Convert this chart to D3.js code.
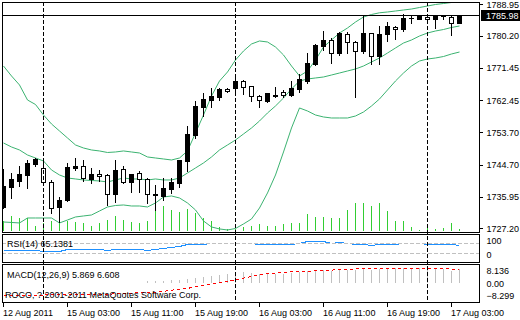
<!DOCTYPE html>
<html>
<head>
<meta charset="utf-8">
<script src="https://cdn.jsdelivr.net/npm/d3@7"></script>
<style>
    body { margin: 0; background: #fff; }
    svg { display: block; font-family: "Liberation Sans", Arial, sans-serif; font-size: 9px; }
</style>
</head>
<body>
<svg id="chart" width="520" height="320"></svg>
<script>
// hourly XAUUSD bars, 12 Aug 2011 19:00 .. 17 Aug 2011 04:00
const open = [1733.08,1738.59,1740.25,1741.90,1745.01,1743.83,1739.97,1733.08,1734.87,1743.83,
    1744.38,1740.88,1742.18,1741.90,1736.58,1743.47,1740.05,1742.53,1740.80,1736.25,
    1736.19,1738.04,1739.78,1745.84,1752.99,1760.73,1762.57,1763.48,1765.69,1765.80,
    1767.81,1766.29,1763.67,1762.38,1763.76,1764.86,1763.95,1765.60,1767.89,1772.49,
    1777.46,1779.02,1775.53,1780.85,1778.48,1776.16,1780.96,1774.70,1780.68,1782.78,
    1782.06,1785.04,1784.82,1785.53,1784.82,1785.67,1785.37,1783.88];
const high = [1743.83,1742.73,1744.66,1746.31,1746.86,1746.86,1740.80,1736.11,1745.48,1746.86,
    1746.31,1744.11,1743.42,1742.31,1746.23,1744.66,1742.18,1743.28,1741.43,1739.42,
    1741.43,1741.43,1746.31,1755.68,1762.57,1764.69,1766.07,1766.07,1766.02,1769.46,
    1768.36,1766.84,1764.22,1764.58,1766.43,1765.60,1768.09,1769.88,1775.80,1778.37,
    1781.87,1779.88,1781.67,1781.67,1779.11,1786.28,1781.40,1783.24,1784.43,1783.24,
    1786.47,1786.00,1786.00,1786.00,1785.73,1786.28,1786.28,1786.28];
const low = [1732.80,1735.56,1738.87,1738.32,1744.38,1739.14,1731.43,1728.95,1734.73,1743.28,
    1740.25,1739.69,1740.11,1733.63,1734.32,1739.78,1737.30,1737.30,1734.10,1732.25,
    1735.01,1736.86,1738.67,1743.09,1752.18,1758.16,1760.73,1762.57,1764.78,1764.14,
    1764.14,1762.30,1760.73,1762.10,1763.32,1763.32,1763.67,1764.86,1767.26,1772.22,
    1776.35,1772.85,1774.98,1775.61,1763.48,1775.61,1772.41,1772.41,1778.92,1779.30,
    1781.67,1783.88,1784.82,1784.76,1782.33,1784.82,1780.49,1783.88];
const close = [1738.87,1740.80,1742.18,1745.21,1746.39,1739.97,1732.80,1735.01,1744.11,1744.46,
    1741.07,1742.18,1741.49,1736.66,1743.28,1740.05,1742.09,1740.72,1736.58,1736.66,
    1738.23,1740.05,1746.04,1753.16,1761.00,1762.85,1763.67,1765.52,1764.97,1767.89,
    1766.07,1763.54,1762.57,1764.42,1763.95,1763.87,1765.80,1768.30,1772.77,1777.73,
    1779.11,1775.44,1780.96,1778.48,1776.08,1780.96,1774.70,1780.68,1782.97,1782.06,
    1785.09,1785.12,1786.00,1784.82,1785.73,1785.78,1783.88,1785.98];
const volume = [930,1430,1300,1300,500,800,1000,800,930,900,
    800,500,800,1100,1430,1100,900,800,930,2100,
    2500,2070,1900,2140,1740,1240,970,400,150,200,
    400,470,670,470,470,670,800,800,1670,1340,
    1400,1300,1300,2070,2740,2740,2470,2740,1970,970,
    970,400,100,340,170,240,740,170];

// bands
const bandUpper = [1771.94,1769.19,1766.71,1762.57,1761.33,1758.43,1755.96,1754.03,1752.10,1750.17,
    1749.34,1748.79,1748.52,1748.10,1748.24,1748.52,1748.24,1747.96,1746.86,1746.58,
    1746.31,1746.03,1746.58,1748.52,1753.48,1758.43,1763.67,1767.81,1770.29,1773.60,
    1776.08,1778.01,1778.84,1778.56,1777.18,1774.98,1771.94,1769.19,1770.57,1773.60,
    1777.18,1779.11,1781.04,1782.42,1784.07,1785.45,1786.14,1786.61,1786.83,1787.10,
    1787.38,1787.65,1788.07,1788.48,1788.90,1789.17,1789.45,1789.72];
const bandMiddle = [1750.72,1749.62,1748.79,1747.41,1746.58,1745.76,1743.28,1741.90,1741.07,1740.80,
    1740.52,1740.38,1740.25,1739.97,1740.52,1741.07,1740.80,1740.80,1740.52,1740.80,
    1740.52,1740.52,1741.07,1742.45,1743.83,1745.21,1746.86,1748.79,1750.17,1751.55,
    1753.20,1754.85,1756.78,1758.99,1760.92,1763.12,1765.60,1767.81,1768.36,1768.64,
    1768.91,1769.46,1770.01,1770.57,1771.12,1771.94,1773.05,1774.15,1775.52,1776.91,
    1778.28,1779.11,1780.21,1781.04,1781.59,1782.00,1782.56,1782.97];
const bandLower = [1728.94,1728.81,1728.67,1730.04,1730.04,1730.04,1730.04,1728.67,1729.49,1730.32,
    1730.60,1730.87,1731.97,1733.08,1733.49,1733.63,1733.35,1733.35,1733.08,1734.18,
    1735.83,1736.11,1735.56,1734.18,1732.25,1729.22,1727.57,1727.02,1726.74,1727.15,
    1728.40,1729.77,1732.80,1736.94,1741.90,1748.24,1754.85,1760.37,1759.54,1758.43,
    1757.89,1757.61,1757.61,1757.61,1758.16,1759.26,1760.92,1762.85,1765.33,1767.81,
    1770.01,1771.94,1773.32,1773.87,1774.15,1774.56,1775.25,1775.80];

const rsi = [43,43,43,44,44,41,38,39,46,46,
    46,46,46,45,46,46,46,46,45,46,
    50,55,61,66,66,66,70,70,70,70,
    70,70,66,66,66,66,66,72,79,79,
    79,71,74,70,66,66,62,66,66,66,
    70,70,70,66,66,66,66,65.14];
const macd = [0.1,0.1,0.1,0.1,0.1,0.1,0.1,0.1,0.1,0.1,
    0.1,0.1,0.1,0.1,0.1,0.1,0.1,0.1,0.6,0.8,
    0.9,1.0,1.2,1.6,2.2,2.6,3.0,3.5,3.9,4.3,
    4.5,4.3,4.0,3.9,3.9,4.0,4.3,4.8,5.0,5.3,
    5.4,5.3,5.5,5.5,5.5,5.8,5.7,6.0,6.2,6.2,
    6.3,6.3,6.3,6.2,6.2,6.1,5.2,5.87];
const signal = [-5.3,-5.3,-5.3,-5.3,-5.3,-5.3,-5.2,-5.2,-5.2,-5.2,
    -5.2,-5.1,-5.0,-4.9,-4.8,-4.6,-4.5,-4.3,-4.2,-4.0,
    -3.7,-3.2,-2.8,-2.4,-1.8,-1.2,-0.6,0.1,0.7,1.3,
    2.0,2.7,3.6,4.0,4.2,4.5,4.7,4.8,5.0,5.2,
    5.4,5.5,5.7,5.8,6.0,6.1,6.27,6.27,6.27,6.27,
    6.27,6.27,6.27,6.27,6.27,6.27,5.9,5.85];

const xTickBars = [0, 8, 16, 24, 32, 40, 48, 56];
const xTickLabels = ["12 Aug 2011", "15 Aug 03:00", "15 Aug 11:00", "15 Aug 19:00",
    "16 Aug 03:00", "16 Aug 11:00", "16 Aug 19:00", "17 Aug 03:00"];
const separatorBars = [5, 29, 53];
const priceTicks = [1788.95, 1780.20, 1771.45, 1762.45, 1753.70, 1744.70, 1735.95, 1727.20];
const rsiLevels = [70, 30];
const rsiLabels = [100, 0];
const macdTicks = [8.136, 0, -8.299];
const rsiTitle = "RSI(14) 65.1381";
const macdTitle = "MACD(12,26,9) 5.869 6.608";
const copyright = "ROCO, ? 2001-2011 MetaQuotes Software Corp.";

const BAND_COLOR = "#3cb371", VOL_COLOR = "#32cd32", RSI_COLOR = "#1e90ff";
const PLOT = {left: 2, right: 479};
const MAIN = {top: 2, bottom: 232}, RSI = {top: 234, bottom: 262}, MACDP = {top: 264, bottom: 302};

let svg = d3.select("#chart");
svg.append("rect").attr("width", 520).attr("height", 320).attr("fill", "#fff");

let bars = close.map((c, i) => ({i, o: open[i], h: high[i], l: low[i], c, v: volume[i]}));

let x = d3.scaleLinear().domain([0, bars.length - 1]).range([3, 3 + 8 * (bars.length - 1)]);
let y = d3.scaleLinear().domain([1727.20, 1788.95]).range([228.3, 4.3]);
let yVol = d3.scaleLinear().domain([0, 3000]).range([230.7, 200.7]);
let yRsi = d3.scaleLinear().domain([0, 100]).range([260.8, 235.8]);
let yMacd = d3.scaleLinear().domain([-8.299, 8.136]).range([MACDP.bottom, MACDP.top]);

const cx = i => Math.round(x(i)) + 0.5;
const py = v => Math.round(y(v)) + 0.5;

// clip paths for each panel
let defs = svg.append("defs");
[["clip-main", MAIN], ["clip-rsi", RSI], ["clip-macd", MACDP]].forEach(([id, p]) => {
    defs.append("clipPath").attr("id", id).append("rect")
        .attr("x", PLOT.left + 1).attr("y", p.top + 1)
        .attr("width", PLOT.right - PLOT.left - 1).attr("height", p.bottom - p.top - 1);
});

// ---- main panel
let main = svg.append("g").attr("clip-path", "url(#clip-main)");

main.append("g").selectAll("line").data(bars).join("line")
    .attr("x1", d => cx(d.i)).attr("x2", d => cx(d.i))
    .attr("y1", d => Math.round(yVol(0))).attr("y2", d => Math.round(yVol(d.v)))
    .attr("stroke", VOL_COLOR).attr("shape-rendering", "crispEdges");

let bandLine = d3.line().x((d, i) => x(i) + 0.5).y(d => y(d));
[bandUpper, bandMiddle, bandLower].forEach(b => {
    main.append("path").attr("d", bandLine(b))
        .attr("fill", "none").attr("stroke", BAND_COLOR).attr("stroke-width", 1);
});

let candle = main.append("g").attr("shape-rendering", "crispEdges")
    .selectAll("g").data(bars).join("g");
candle.append("line")
    .attr("x1", d => cx(d.i)).attr("x2", d => cx(d.i))
    .attr("y1", d => py(d.h)).attr("y2", d => py(d.l) + 0.5)
    .attr("stroke", "#000");
candle.each(function(d){
    let g = d3.select(this),
        top = Math.round(y(Math.max(d.o, d.c))),
        bot = Math.round(y(Math.min(d.o, d.c)));
    if(d.c > d.o || bot - top < 2){
        // up bar (or doji): solid body
        g.append("rect").attr("x", cx(d.i) - 2.5).attr("y", top)
            .attr("width", 5).attr("height", Math.max(1, bot - top + 1)).attr("fill", "#000");
    } else {
        g.append("rect").attr("x", cx(d.i) - 2).attr("y", top + 0.5)
            .attr("width", 4).attr("height", bot - top)
            .attr("fill", "#fff").attr("stroke", "#000");
    }
});

// last price line
let last = close[close.length - 1];
svg.append("line").attr("x1", PLOT.left).attr("x2", PLOT.right)
    .attr("y1", py(last)).attr("y2", py(last))
    .attr("stroke", "#000").attr("shape-rendering", "crispEdges");

// ---- RSI panel
let rsiG = svg.append("g").attr("clip-path", "url(#clip-rsi)");
rsiG.append("path").attr("d", d3.line().x((d, i) => x(i) + 0.5).y(d => Math.round(yRsi(d)) + 0.5)(rsi))
    .attr("fill", "none").attr("stroke", RSI_COLOR).attr("shape-rendering", "crispEdges");
// level lines are opaque dashes: they hide the RSI where it sits on them
rsiLevels.forEach(l => {
    let yy = Math.round(yRsi(l)) + 0.5;
    rsiG.append("line").attr("x1", PLOT.left).attr("x2", PLOT.right).attr("y1", yy).attr("y2", yy)
        .attr("stroke", "#fff").attr("shape-rendering", "crispEdges");
    rsiG.append("line").attr("x1", PLOT.left).attr("x2", PLOT.right).attr("y1", yy).attr("y2", yy)
        .attr("stroke", "#c0c0c0").attr("stroke-dasharray", "4,2").attr("shape-rendering", "crispEdges");
});

// ---- MACD panel
let macdG = svg.append("g").attr("clip-path", "url(#clip-macd)");
macdG.append("g").selectAll("line").data(macd).join("line")
    .attr("x1", (d, i) => cx(i)).attr("x2", (d, i) => cx(i))
    .attr("y1", Math.round(yMacd(0))).attr("y2", d => Math.round(yMacd(d)))
    .attr("stroke", "#c0c0c0").attr("shape-rendering", "crispEdges");
macdG.append("path").attr("d", d3.line().x((d, i) => x(i) + 0.5).y(d => yMacd(d))(signal))
    .attr("fill", "none").attr("stroke", "#ff0000").attr("stroke-dasharray", "3,3")
    .attr("shape-rendering", "crispEdges");

// day separators
svg.append("g").selectAll("line").data(separatorBars).join("line")
    .attr("x1", d => cx(d)).attr("x2", d => cx(d))
    .attr("y1", MAIN.top).attr("y2", MACDP.bottom)
    .attr("stroke", "#000").attr("stroke-dasharray", "4,2").attr("shape-rendering", "crispEdges");

// panel borders
[MAIN, RSI, MACDP].forEach(p => {
    svg.append("rect").attr("x", PLOT.left + 0.5).attr("y", p.top + 0.5)
        .attr("width", PLOT.right - PLOT.left).attr("height", p.bottom - p.top)
        .attr("fill", "none").attr("stroke", "#000").attr("shape-rendering", "crispEdges");
});

const styleText = g => g.selectAll("text").attr("font-family", "Liberation Sans").attr("font-size", 9).attr("fill", "#000");

// price axis
let yAxis = d3.axisRight(y).tickValues(priceTicks).tickSize(3).tickPadding(4)
    .tickFormat(d3.format(".2f"));
svg.append("g").attr("transform", `translate(${PLOT.right + 0.5},0)`).call(yAxis)
    .call(g => g.select(".domain").remove())
    .call(g => g.selectAll("line").attr("shape-rendering", "crispEdges"))
    .call(styleText);

// current price box
let box = svg.append("g").attr("transform", `translate(481,${py(last)})`);
box.append("rect").attr("x", 0).attr("y", -5.5).attr("width", 39).attr("height", 11).attr("fill", "#000");
box.append("text").attr("x", 5).attr("y", 0).attr("dy", "0.35em").attr("fill", "#fff")
    .text(d3.format(".2f")(last));

// sub-window scale labels (drawn just inside the window edges)
let rsiAxis = d3.axisRight(d3.scaleLinear().domain([0, 100]).range([RSI.bottom - 7.5, RSI.top + 6.5]))
    .tickValues(rsiLabels).tickSize(0).tickPadding(7);
svg.append("g").attr("transform", `translate(${PLOT.right + 0.5},0)`).call(rsiAxis)
    .call(g => g.select(".domain").remove())
    .call(styleText);
let macdAxis = d3.axisRight(d3.scaleLinear().domain([-8.299, 8.136]).range([MACDP.bottom - 6, MACDP.top + 7]))
    .tickValues(macdTicks).tickSize(0).tickPadding(7).tickFormat(d => d === 0 ? "0.00" : d3.format(".3f")(d));
svg.append("g").attr("transform", `translate(${PLOT.right + 0.5},0)`).call(macdAxis)
    .call(g => g.select(".domain").remove())
    .call(styleText);

// time axis
let xAxisG = svg.append("g").attr("transform", `translate(0,${MACDP.bottom + 0.5})`);
xAxisG.selectAll("line").data(xTickBars).join("line")
    .attr("x1", d => cx(d)).attr("x2", d => cx(d)).attr("y1", 0).attr("y2", 4)
    .attr("stroke", "#000").attr("shape-rendering", "crispEdges");
xAxisG.selectAll("text").data(xTickBars).join("text")
    .attr("x", d => cx(d) - 0.5).attr("y", 10).attr("dy", "0.35em")
    .text((d, i) => xTickLabels[i]);

// indicator titles
svg.append("text").attr("x", 7).attr("y", 244).attr("dy", "0.35em").text(rsiTitle);
svg.append("text").attr("x", 7).attr("y", 274.5).attr("dy", "0.35em").text(macdTitle);
svg.append("text").attr("x", 5).attr("y", 295).attr("dy", "0.35em").text(copyright);
</script>
</body>
</html>
